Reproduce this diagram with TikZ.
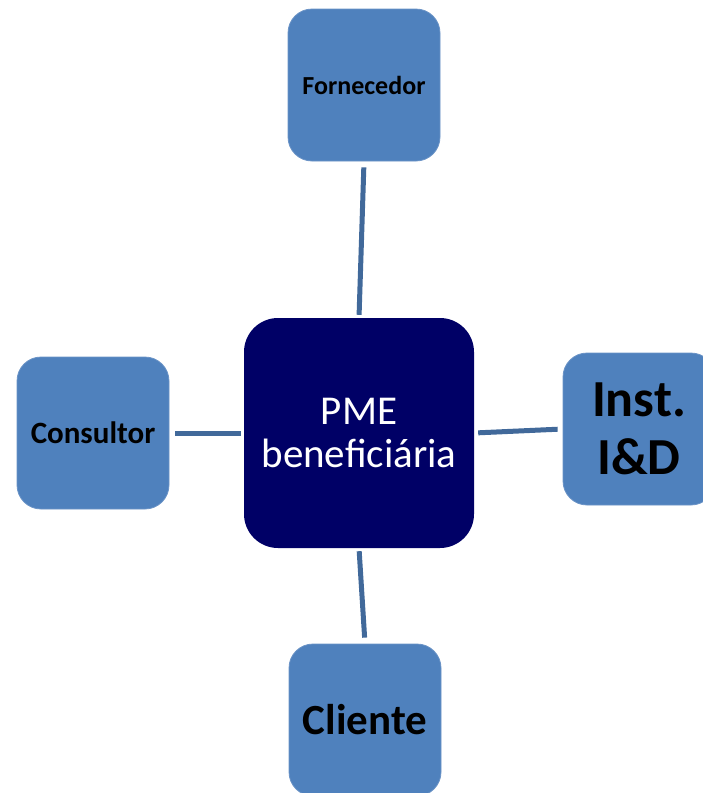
\documentclass[tikz,border=0pt]{standalone}
\usepackage{fontspec}
\setmainfont{Carlito}
\definecolor{boxblue}{HTML}{4F81BD}
\definecolor{boxedge}{HTML}{6A93C6}
\definecolor{navy}{HTML}{000066}
\definecolor{linkblue}{HTML}{41699A}
\tikzset{
  sat/.style={draw=boxedge, line width=0.8pt, fill=boxblue, rounded corners=24pt,
    minimum width=152pt, minimum height=152pt, inner sep=0pt, align=center,
    font=\bfseries, text=black},
  hub/.style={fill=navy, rounded corners=34pt, minimum width=230pt, minimum height=230pt,
    inner sep=0pt, align=center, text=white},
  link/.style={draw=linkblue, line width=5pt}
}
\begin{document}
\begin{tikzpicture}[x=1pt,y=-1pt]
\useasboundingbox (0,0) rectangle (703,793);
\begin{scope}
\clip (0,0) rectangle (703,793);
\node[hub, font={\fontsize{41}{43}\selectfont}] (pme) at (359,433) {PME\\beneficiária};
\node[sat, font={\bfseries\fontsize{26}{30}\selectfont}] (forn) at (364,85) {Fornecedor};
\node[sat, font={\bfseries\fontsize{31}{35}\selectfont}] (cons) at (93,433) {Consultor};
\node[sat, font={\bfseries\fontsize{52}{58}\selectfont}] (inst) at (639,429) {Inst.\\I\&D};
\node[sat, font={\bfseries\fontsize{43}{48}\selectfont}] (cli) at (365,720) {Cliente};
\end{scope}
\draw[link, shorten <=6pt, shorten >=3pt] (forn.south) -- (pme.north);
\draw[link, shorten <=6pt, shorten >=3pt] (cons.east) -- (pme.west);
\draw[link, shorten <=4pt, shorten >=5pt] (pme.east) -- (inst.west);
\draw[link, shorten <=3pt, shorten >=6pt] (pme.south) -- (cli.north);
\end{tikzpicture}
\end{document}
